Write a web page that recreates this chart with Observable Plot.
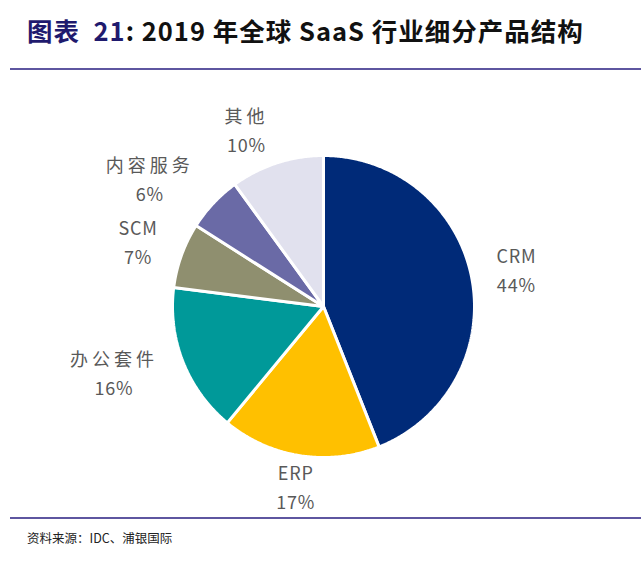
<!DOCTYPE html>
<html>
<head>
<meta charset="utf-8">
<script src="https://cdn.jsdelivr.net/npm/d3@7"></script>
<script src="https://cdn.jsdelivr.net/npm/@observablehq/plot@0.6"></script>
<style>
  html, body { margin: 0; padding: 0; background: #fff; }
  body { width: 641px; height: 567px; position: relative; overflow: hidden;
         font-family: "Noto Sans CJK SC", "Noto Sans", sans-serif; }
  #title { position: absolute; left: 27px; top: 11px; font-size: 25.5px; font-weight: bold;
           color: #111; white-space: pre; letter-spacing: 1px; }
  #title .lead { color: #1f1a6e; }
  .rule { position: absolute; left: 10px; width: 631px; height: 2px; background: #5e56a0; }
  #chart { position: absolute; left: 0; top: 72px; }
  #caption { position: absolute; left: 27px; top: 528px; font-size: 12.5px; color: #222; }
</style>
</head>
<body>
<div id="title"><span class="lead">图表  21</span>: 2019 年全球 SaaS 行业细分产品结构</div>
<div class="rule" style="top:68px"></div>
<div id="chart"></div>
<div class="rule" style="top:517px"></div>
<div id="caption">资料来源：IDC、浦银国际</div>
<script>
const categories = ["CRM", "ERP", "办公套件", "SCM", "内容服务", "其他"];
const shares = [44, 17, 16, 7, 6, 10];
const percentLabels = ["44%", "17%", "16%", "7%", "6%", "10%"];
const colors = ["#002a78", "#ffc000", "#009999", "#8f8f6f", "#6a6aa6", "#e1e1ee"];

const W = 641, H = 445;
const cx = 323, cy = 234;   // pie centre within the svg
const R = 151;              // pie radius (in scale units = px)

const arcs = d3.pie().sort(null).value((d, i) => shares[i])(categories);

// polygon points for each slice
const slicePts = [];
arcs.forEach((a, i) => {
  const name = categories[i];
  slicePts.push({name, x: 0, y: 0});
  const n = Math.max(4, Math.ceil((a.endAngle - a.startAngle) / (Math.PI / 360)));
  for (let k = 0; k <= n; k++) {
    const t = a.startAngle + (a.endAngle - a.startAngle) * k / n;
    slicePts.push({name, x: R * Math.sin(t), y: -R * Math.cos(t)});
  }
  slicePts.push({name, x: 0, y: 0});
});

// label positions: outside the pie, along mid angle
function textWidth(s) {
  let w = 0;
  for (const ch of s) w += /[\u3000-\u9fff]/.test(ch) ? 22 : 12;
  return w;
}
const LRx = 178, LRy = 184;
const labels = [];
arcs.forEach((a, i) => {
  const m = (a.startAngle + a.endAngle) / 2;
  const sx = Math.sin(m), sy = -Math.cos(m);
  const w = Math.max(textWidth(categories[i]), textWidth(percentLabels[i]));
  const side = Math.abs(sx) < 0.2 ? 0 : Math.sign(sx);
  const x = LRx * sx + side * w / 2;
  const y = LRy * sy;
  labels.push({name: categories[i], pct: percentLabels[i], x, y});
});

const plot = Plot.plot({
  width: W, height: H,
  margin: 0,
  x: {domain: [-cx, W - cx], range: [0, W], axis: null},
  y: {domain: [-cy, H - cy], range: [0, H], axis: null},
  color: {domain: categories, range: colors},
  style: {background: "transparent", fontFamily: "'Noto Sans CJK SC', 'Noto Sans', sans-serif"},
  marks: [
    Plot.line(slicePts, {x: "x", y: "y", z: "name", fill: "name", stroke: "white",
                          strokeWidth: 3, strokeLinejoin: "miter", curve: "linear"}),
    Plot.text(labels, {x: "x", y: "y", text: "name", dy: -14.5, fontSize: 18,
                       fill: "#595959", textAnchor: "middle"}),
    Plot.text(labels, {x: "x", y: "y", text: "pct", dy: 14.5, fontSize: 18,
                       fill: "#595959", textAnchor: "middle"})
  ]
});
plot.querySelectorAll("text").forEach(t => {
  const cjk = /[\u4e00-\u9fff]/.test(t.textContent);
  t.style.letterSpacing = cjk ? "4px" : "0.8px";
});
document.getElementById("chart").appendChild(plot);
</script>
</body>
</html>
